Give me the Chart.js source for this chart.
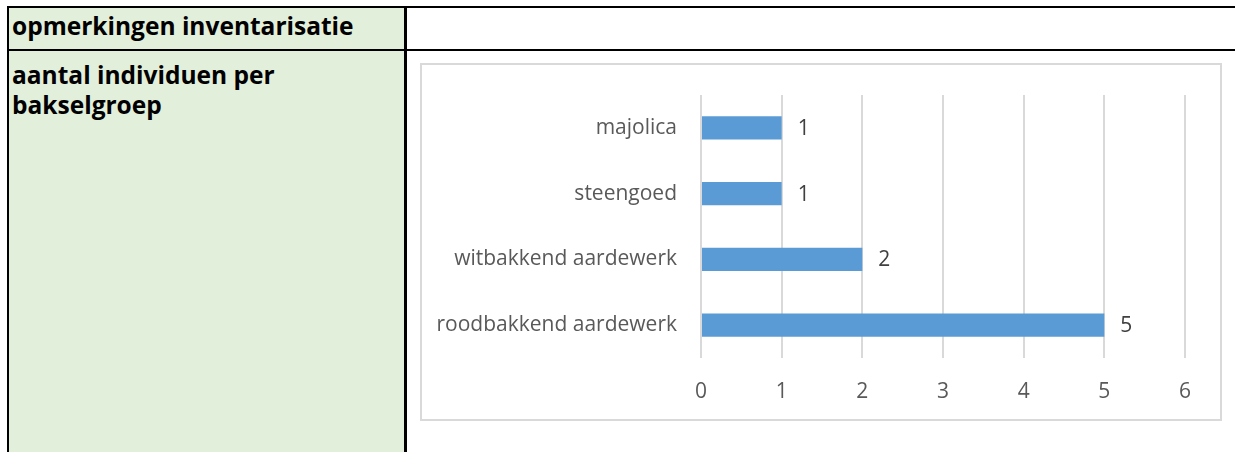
<!DOCTYPE html>
<html>
<head>
<meta charset="utf-8">
<script src="https://cdn.jsdelivr.net/npm/chart.js@4/dist/chart.umd.min.js"></script>
<style>
  html, body { margin: 0; padding: 0; background: #fff; }
  body { width: 1235px; height: 452px; position: relative; overflow: hidden; font-family: "Open Sans", sans-serif; }
  .fill { position: absolute; background: #e2efda; }
  .line { position: absolute; background: #000; }
  .head { position: absolute; font-weight: bold; color: #000; font-size: 24.5px; line-height: 30px; white-space: nowrap; }
  #box { position: absolute; left: 420px; top: 63px; width: 802px; height: 358px; box-sizing: border-box; border: 2px solid #d9d9d9; background: #fff; }
  #inner { position: relative; width: 798px; height: 354px; }
</style>
</head>
<body>
  <!-- table cells -->
  <div class="fill" style="left:9px; top:8px; width:395px; height:41px;"></div>
  <div class="fill" style="left:9px; top:51px; width:395px; height:401px;"></div>
  <div class="line" style="left:7px; top:6px; width:1228px; height:2px;"></div>
  <div class="line" style="left:7px; top:49px; width:1228px; height:2px;"></div>
  <div class="line" style="left:7px; top:6px; width:2px; height:446px;"></div>
  <div class="line" style="left:404px; top:6px; width:3px; height:446px;"></div>

  <div class="head" style="left:12px; top:11px;">opmerkingen inventarisatie</div>
  <div class="head" style="left:12px; top:60px;">aantal individuen per<br>bakselgroep</div>

  <div id="box"><div id="inner"><canvas id="chart"></canvas></div></div>

<script>
// Pottery groups and number of individuals per group
const categories = ['majolica', 'steengoed', 'witbakkend aardewerk', 'roodbakkend aardewerk'];
const counts = [1, 1, 2, 5];
const axisMin = 0;
const axisMax = 6;

const labelFont = { family: '"Open Sans", sans-serif', size: 21 };

// Writes each bar's value just past its end
const valueLabels = {
  id: 'valueLabels',
  afterDatasetsDraw(chart) {
    const ctx = chart.ctx;
    const meta = chart.getDatasetMeta(0);
    ctx.save();
    ctx.font = labelFont.size + 'px ' + labelFont.family;
    ctx.fillStyle = '#404040';
    ctx.textAlign = 'left';
    ctx.textBaseline = 'middle';
    meta.data.forEach((bar, i) => {
      ctx.fillText(String(counts[i]), bar.x + 16, bar.y + 1);
    });
    ctx.restore();
  }
};

new Chart(document.getElementById('chart'), {
  type: 'bar',
  data: {
    labels: categories,
    datasets: [{
      data: counts,
      backgroundColor: '#5b9bd5',
      borderWidth: 0,
      barPercentage: 0.35,
      categoryPercentage: 1.0
    }]
  },
  options: {
    indexAxis: 'y',
    responsive: true,
    maintainAspectRatio: false,
    animation: false,
    layout: { padding: { top: 30, right: 35, left: 0, bottom: 0 } },
    plugins: {
      legend: { display: false },
      tooltip: { enabled: false }
    },
    scales: {
      x: {
        min: axisMin,
        max: axisMax,
        border: { display: false },
        grid: { color: '#d9d9d9', lineWidth: 2, drawTicks: false },
        ticks: {
          stepSize: 1,
          padding: 21,
          color: '#595959',
          font: labelFont
        },
        afterFit(scale) {
          scale.height = 61;
          scale.paddingLeft = 0;
          scale.paddingRight = 0;
        }
      },
      y: {
        border: { display: false },
        grid: { display: false, drawTicks: false },
        ticks: {
          padding: 24,
          color: '#595959',
          font: labelFont
        },
        afterFit(scale) {
          scale.width = 279;
          scale.paddingTop = 0;
          scale.paddingBottom = 0;
        }
      }
    }
  },
  plugins: [valueLabels]
});
</script>
</body>
</html>
